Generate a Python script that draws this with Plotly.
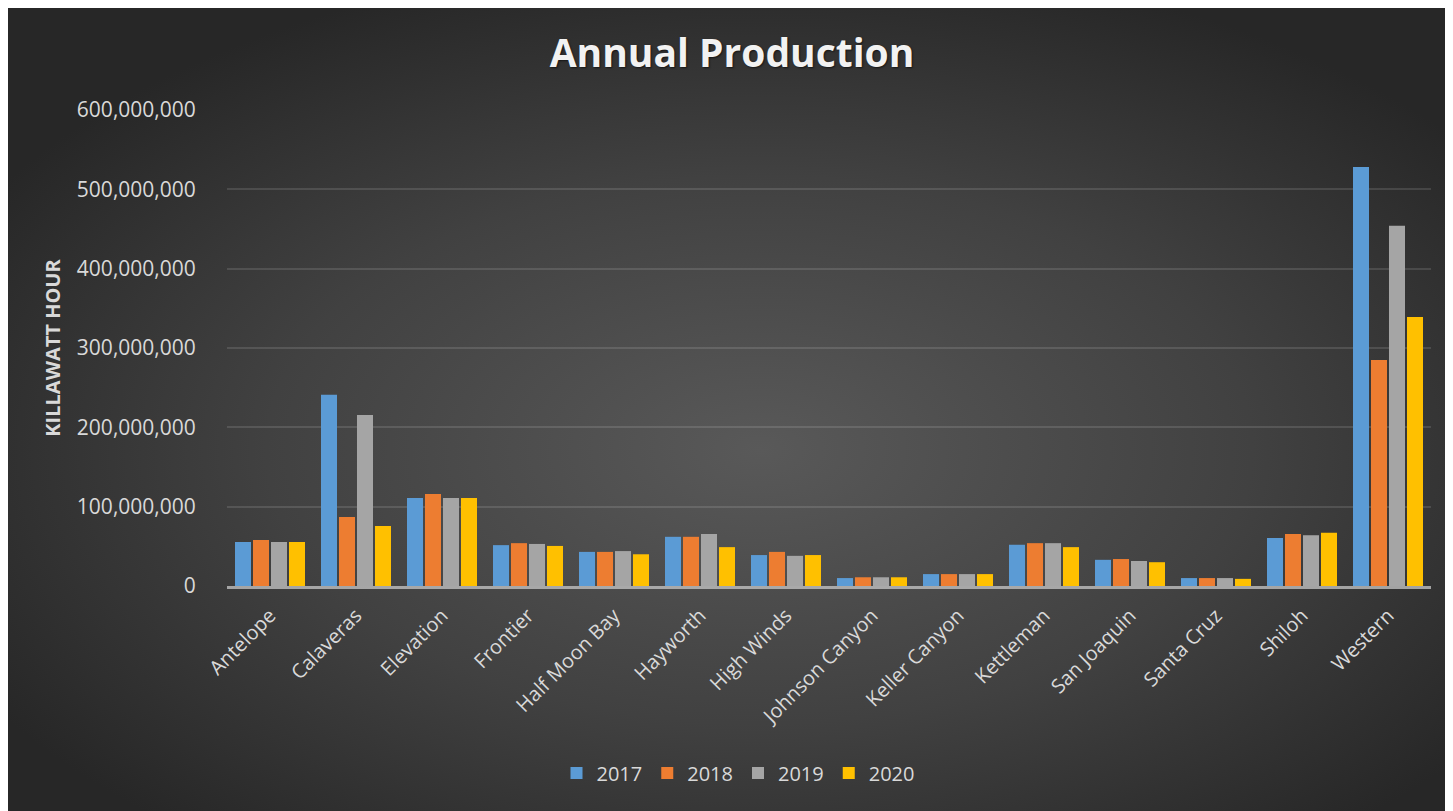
import base64
import plotly.graph_objects as go

sites = ["Antelope", "Calaveras", "Elevation", "Frontier", "Half Moon Bay", "Hayworth",
         "High Winds", "Johnson Canyon", "Keller Canyon", "Kettleman", "San Joaquin",
         "Santa Cruz", "Shiloh", "Western"]
years = ["2017", "2018", "2019", "2020"]
prod_2017 = [55500000, 241000000, 111000000, 51500000, 43000000, 62000000, 39000000,
             10000000, 15000000, 52000000, 33000000, 10000000, 60500000, 528000000]
prod_2018 = [58000000, 87000000, 116000000, 54000000, 43000000, 62000000, 43000000,
             11000000, 15000000, 54000000, 34000000, 10000000, 65500000, 285000000]
prod_2019 = [55500000, 215500000, 111000000, 53000000, 44000000, 65500000, 38000000,
             11000000, 15000000, 54000000, 31500000, 10000000, 64000000, 454000000]
prod_2020 = [55500000, 75500000, 111000000, 50500000, 40000000, 49000000, 39000000,
             11000000, 15000000, 49000000, 30000000, 9000000, 67000000, 339000000]
series = [prod_2017, prod_2018, prod_2019, prod_2020]
colors = ["#5B9BD5", "#ED7D31", "#A5A5A5", "#FFC000"]
y_ticks = [0, 100000000, 200000000, 300000000, 400000000, 500000000, 600000000]

# page body adds an 8px offset; the figure fills the rest of the window
W, H = 1445, 803
L, R, T, B = 219, 22, 102, 225
pw, ph = W - L - R, H - T - B

svg = (
    '<svg xmlns="http://www.w3.org/2000/svg" width="1445" height="803" viewBox="0 0 1445 803" preserveAspectRatio="none">'
    '<defs><radialGradient id="g" cx="0.52" cy="0.55" r="0.62">'
    '<stop offset="0" stop-color="#595959"/>'
    '<stop offset="0.55" stop-color="#414141"/>'
    '<stop offset="1" stop-color="#272727"/>'
    '</radialGradient></defs>'
    '<rect x="0" y="0" width="1445" height="803" fill="url(#g)"/></svg>'
)
src = "data:image/svg+xml;base64," + base64.b64encode(svg.encode()).decode()

fig = go.Figure()
for name, vals, col in zip(years, series, colors):
    fig.add_trace(go.Bar(x=sites, y=vals, name=name, marker=dict(color=col, line=dict(width=0))))

fig.add_layout_image(dict(
    source=src, xref="paper", yref="paper",
    x=-L / pw, y=(H - B) / ph,
    sizex=W / pw, sizey=H / ph,
    xanchor="left", yanchor="top", sizing="stretch", layer="below"))

txt = "#d9d9d9"
fig.update_layout(
    width=W, height=H, autosize=False,
    margin=dict(l=L, r=R, t=T, b=B, autoexpand=False),
    paper_bgcolor="#333333",
    plot_bgcolor="rgba(0,0,0,0)",
    barmode="group", bargap=0.163, bargroupgap=0.11,
    font=dict(family="Open Sans", color=txt, size=20),
    title=dict(text="<b>Annual Production</b>", x=724 / W, xanchor="center",
               y=1 - 45 / H, yanchor="middle", xref="container", yref="container",
               font=dict(family="Open Sans", size=39, color="#f2f2f2",
                         shadow="1px 1px 2px rgba(0,0,0,0.6)")),
    xaxis=dict(tickangle=-45, tickfont=dict(size=20, color=txt), showgrid=False,
               showline=True, linecolor="rgba(200,200,200,0.75)", linewidth=3,
               ticks="outside", ticklen=7, tickcolor="rgba(0,0,0,0)", automargin=False),
    yaxis=dict(range=[0, 600000000], tickvals=y_ticks, tickformat=",d",
               tickfont=dict(size=21, color=txt), showgrid=True,
               gridcolor="rgba(255,255,255,0.12)", gridwidth=2, zeroline=False,
               ticks="outside", ticklen=26, tickcolor="rgba(0,0,0,0)", automargin=False,
               title=dict(text="<b>KILLAWATT HOUR</b>", standoff=10,
                          font=dict(size=20, color=txt))),
    legend=dict(orientation="h", x=(730 - L) / pw, xanchor="center",
                y=(H - B - 765) / ph, yanchor="middle", itemwidth=30,
                font=dict(size=20, color=txt), bgcolor="rgba(0,0,0,0)",
                traceorder="normal"),
)

fig.write_html("out.html")
